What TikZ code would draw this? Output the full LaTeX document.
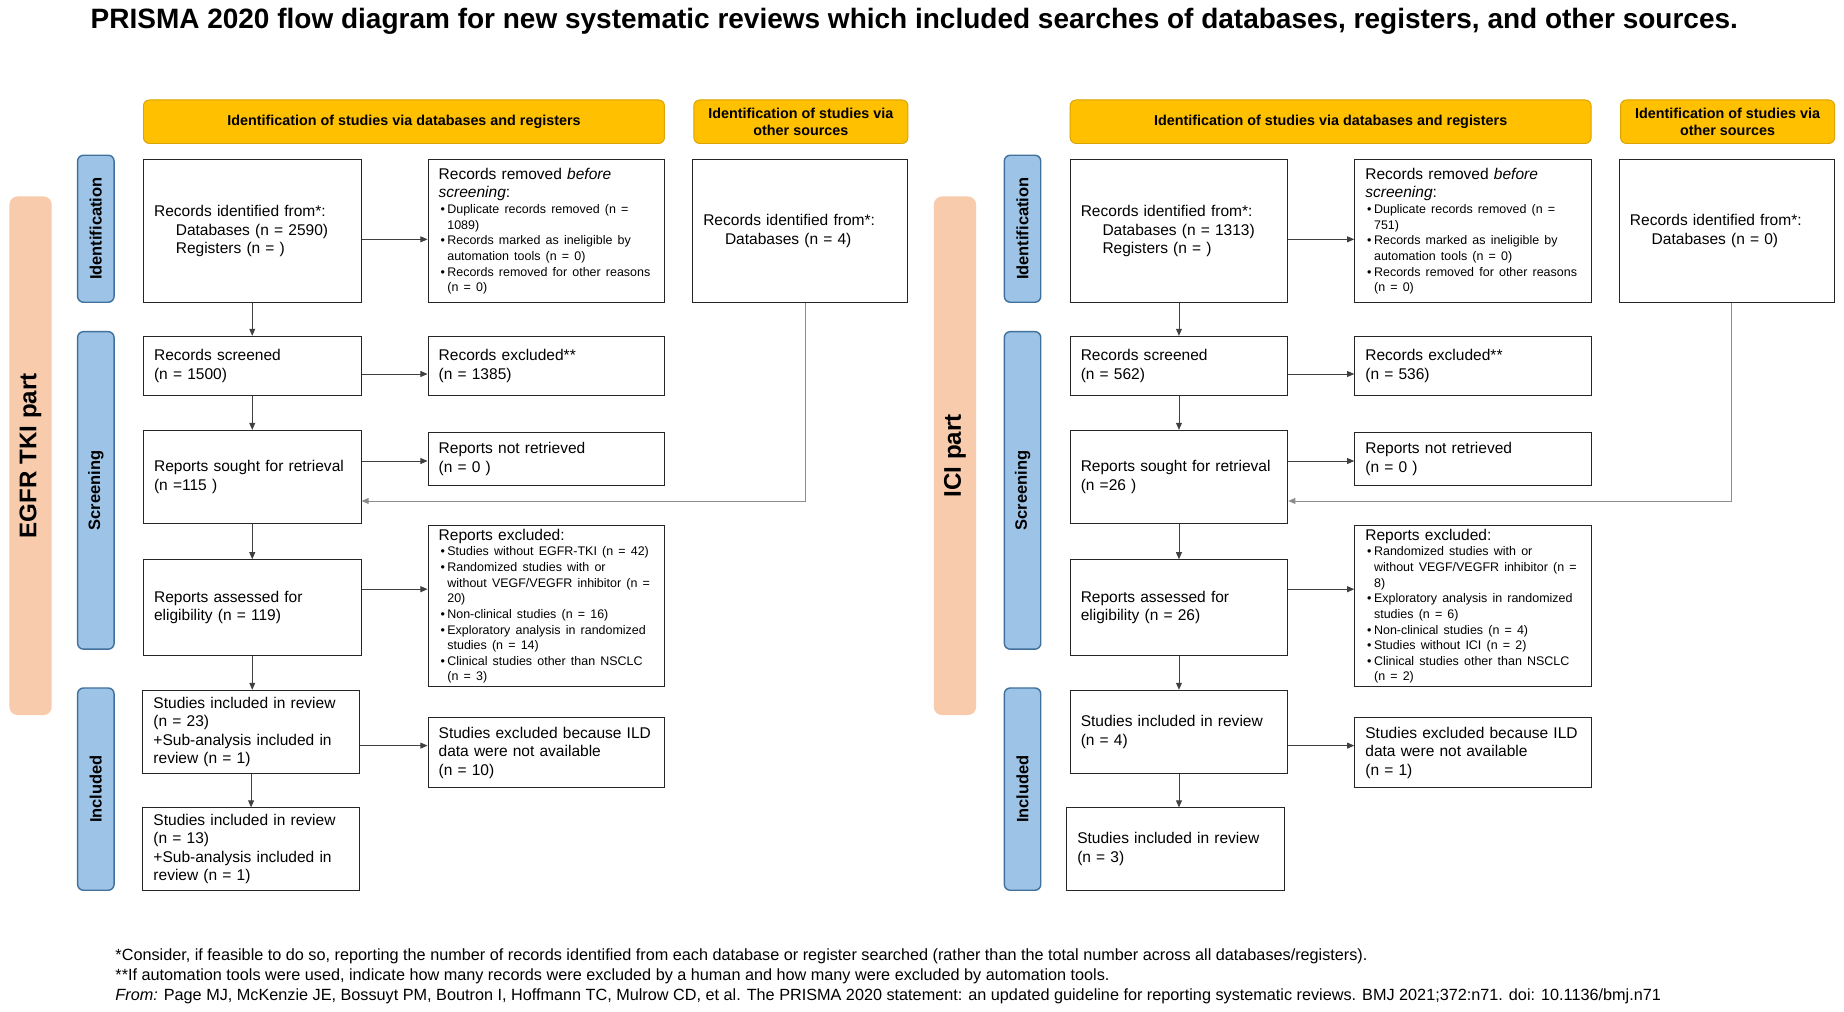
\documentclass[tikz,border=0pt]{standalone}
\usepackage{fontspec}
\setmainfont{Liberation Sans}
\usetikzlibrary{arrows.meta, calc}
\definecolor{hdrfill}{HTML}{FFC000}
\definecolor{hdrline}{HTML}{D9A300}
\definecolor{phasefill}{HTML}{9DC3E6}
\definecolor{phaseline}{HTML}{41719C}
\definecolor{partfill}{HTML}{F8CBAD}
\newcommand{\bigtxt}{\fontsize{13.2}{15.8}\selectfont}
\newcommand{\smalltxt}{\fontsize{10.6}{13.3}\selectfont}
\newcommand{\bitem}[1]{\par\hangindent=0.7em\hangafter=1\noindent\hspace*{0.15em}\makebox[0.55em][l]{\textbullet}#1}
\tikzset{
  box/.style={draw=black!85, line width=0.9pt, fill=white, rectangle, align=left,
    inner xsep=9pt, inner ysep=1pt, font=\bigtxt,
    execute at begin node={\parindent=0pt\hyphenpenalty=10000\exhyphenpenalty=10000}},
  hdr/.style={draw=hdrline, line width=0.8pt, fill=hdrfill, rounded corners=5pt,
    minimum height=37pt, align=center, font=\fontsize{12.2}{14.5}\selectfont\bfseries},
  phase/.style={draw=phaseline, line width=1.2pt, fill=phasefill, rounded corners=5pt,
    rotate=90, minimum height=31pt, font=\fontsize{14}{16}\selectfont\bfseries},
  part/.style={fill=partfill, rounded corners=7pt, rotate=90, minimum height=36pt,
    font=\fontsize{20.5}{24}\selectfont\bfseries},
  arr/.style={draw=black!75, line width=0.8pt, -{Triangle[length=6pt,width=5pt]}},
  feed/.style={draw=black!45, line width=0.8pt, -{Triangle[length=6pt,width=5pt]}},
  foot/.style={anchor=west, inner sep=0pt, font=\fontsize{13.8}{16}\selectfont}
}
\begin{document}
\begin{tikzpicture}[x=1pt, y=-1pt]
\fill[white] (0,0) rectangle (1568,860.5);
\useasboundingbox (0,0) rectangle (1568,860.5);

\node[font=\fontsize{23.8}{26}\selectfont\bfseries] (title) at (777.5,18) {PRISMA 2020 flow diagram for new systematic reviews which included searches of databases, registers, and other sources.};

\node[part, minimum width=441pt] (partl) at (26,387.5) {EGFR TKI part};
\node[phase, minimum width=125pt] (idphl) at (81.5,194.5) {Identification};
\node[phase, minimum width=270pt] (scphl) at (81.5,417) {Screening};
\node[phase, minimum width=172pt] (inphl) at (81.5,671) {Included};
\node[hdr, minimum width=443pt] (hdbl) at (343.5,103.5) {Identification of studies via databases and registers};
\node[hdr, minimum width=182pt] (hdol) at (681,103.5) {Identification of studies via\\other sources};

\node[box, text width=167pt, minimum height=121pt] (idl) at (214.5,196.5) {Records identified from*:\\\hspace*{1.4em}Databases (n = 2590)\\\hspace*{1.4em}Registers (n = )};
\node[box, text width=183pt, minimum height=121pt] (reml) at (464.5,196.5) {{\bigtxt Records removed \textit{before}\\\textit{screening}:\par}\smalltxt
  \bitem{Duplicate records removed (n =\newline 1089)}\bitem{Records marked as ineligible by\newline automation tools (n = 0)}\bitem{Records removed for other reasons\newline (n = 0)}\par};
\node[box, text width=165pt, minimum height=121pt] (othl) at (680.5,196.5) {Records identified from*:\\\hspace*{1.4em}Databases (n = 4)};
\node[box, text width=167pt, minimum height=50pt] (scrl) at (214.5,311) {Records screened\\(n = 1500)};
\node[box, text width=183pt, minimum height=50pt] (excl) at (464.5,311) {Records excluded**\\(n = 1385)};
\node[box, text width=167pt, minimum height=79pt] (soul) at (214.5,405.5) {Reports sought for retrieval\\(n =115 )};
\node[box, text width=183pt, minimum height=45pt] (retl) at (464.5,390.5) {Reports not retrieved\\(n = 0 )};
\node[box, text width=167pt, minimum height=81pt] (assl) at (214.5,516.5) {Reports assessed for\\eligibility (n = 119)};
\node[box, text width=183pt, minimum height=137pt] (rexl) at (464.5,515.5) {{\bigtxt Reports excluded:\par}\smalltxt
  \bitem{Studies without EGFR-TKI (n = 42)}\bitem{Randomized studies with or\newline without VEGF/VEGFR inhibitor (n =\newline 20)}\bitem{Non-clinical studies (n = 16)}\bitem{Exploratory analysis in randomized\newline studies (n = 14)}\bitem{Clinical studies other than NSCLC\newline (n = 3)}\par};
\node[box, text width=166pt, minimum height=71pt] (incl) at (213.5,622.5) {Studies included in review\\(n = 23)\\+Sub-analysis included in\\review (n = 1)};
\node[box, text width=183pt, minimum height=60pt] (ildl) at (464.5,640) {Studies excluded because ILD\\data were not available\\(n = 10)};
\node[box, text width=166pt, minimum height=70pt] (finl) at (213.5,722) {Studies included in review\\(n = 13)\\+Sub-analysis included in\\review (n = 1)};

\draw[arr] (idl) -- (scrl);
\draw[arr] (scrl) -- (soul);
\draw[arr] (soul) -- (assl);
\draw[arr] (assl.south) -- (assl.south |- incl.north);
\draw[arr] (incl) -- (finl);
\coordinate (al1) at ($(idl.east)+(0,7)$);
\draw[arr] (al1) -- (al1 -| reml.west);
\coordinate (al2) at ($(scrl.east)+(0,7)$);
\draw[arr] (al2) -- (al2 -| excl.west);
\coordinate (al3) at ($(soul.east)+(0,-13.5)$);
\draw[arr] (al3) -- (al3 -| retl.west);
\coordinate (al4) at ($(assl.east)+(0,-15.5)$);
\draw[arr] (al4) -- (al4 -| rexl.west);
\coordinate (al5) at ($(incl.east)+(0,11.5)$);
\draw[arr] (al5) -- (al5 -| ildl.west);
\coordinate (fl) at ($(soul.east)+(0,20.5)$);
\draw[feed] ([xshift=4pt]othl.south) |- (fl);

\begin{scope}[xshift=788pt]
\node[part, minimum width=441pt] (partr) at (24,387.5) {ICI part};
\node[phase, minimum width=125pt] (idphr) at (81.5,194.5) {Identification};
\node[phase, minimum width=270pt] (scphr) at (81.5,417) {Screening};
\node[phase, minimum width=172pt] (inphr) at (81.5,671) {Included};
\node[hdr, minimum width=443pt] (hdbr) at (343.5,103.5) {Identification of studies via databases and registers};
\node[hdr, minimum width=182pt] (hdor) at (681,103.5) {Identification of studies via\\other sources};

\node[box, text width=167pt, minimum height=121pt] (idr) at (214.5,196.5) {Records identified from*:\\\hspace*{1.4em}Databases (n = 1313)\\\hspace*{1.4em}Registers (n = )};
\node[box, text width=183pt, minimum height=121pt] (remr) at (464.5,196.5) {{\bigtxt Records removed \textit{before}\\\textit{screening}:\par}\smalltxt
  \bitem{Duplicate records removed (n =\newline 751)}\bitem{Records marked as ineligible by\newline automation tools (n = 0)}\bitem{Records removed for other reasons\newline (n = 0)}\par};
\node[box, text width=165pt, minimum height=121pt] (othr) at (680.5,196.5) {Records identified from*:\\\hspace*{1.4em}Databases (n = 0)};
\node[box, text width=167pt, minimum height=50pt] (scrr) at (214.5,311) {Records screened\\(n = 562)};
\node[box, text width=183pt, minimum height=50pt] (excr) at (464.5,311) {Records excluded**\\(n = 536)};
\node[box, text width=167pt, minimum height=79pt] (sour) at (214.5,405.5) {Reports sought for retrieval\\(n =26 )};
\node[box, text width=183pt, minimum height=45pt] (retr) at (464.5,390.5) {Reports not retrieved\\(n = 0 )};
\node[box, text width=167pt, minimum height=81pt] (assr) at (214.5,516.5) {Reports assessed for\\eligibility (n = 26)};
\node[box, text width=183pt, minimum height=137pt] (rexr) at (464.5,515.5) {{\bigtxt Reports excluded:\par}\smalltxt
  \bitem{Randomized studies with or\newline without VEGF/VEGFR inhibitor (n =\newline 8)}\bitem{Exploratory analysis in randomized\newline studies (n = 6)}\bitem{Non-clinical studies (n = 4)}\bitem{Studies without ICI (n = 2)}\bitem{Clinical studies other than NSCLC\newline (n = 2)}\par};
\node[box, text width=167pt, minimum height=71pt] (incr) at (214.5,622.5) {Studies included in review\\(n = 4)};
\node[box, text width=183pt, minimum height=60pt] (ildr) at (464.5,640) {Studies excluded because ILD\\data were not available\\(n = 1)};
\node[box, text width=167pt, minimum height=70pt] (finr) at (211.5,722) {Studies included in review\\(n = 3)};

\draw[arr] (idr) -- (scrr);
\draw[arr] (scrr) -- (sour);
\draw[arr] (sour) -- (assr);
\draw[arr] (assr) -- (incr);
\draw[arr] (incr.south) -- (incr.south |- finr.north);
\coordinate (ar1) at ($(idr.east)+(0,7)$);
\draw[arr] (ar1) -- (ar1 -| remr.west);
\coordinate (ar2) at ($(scrr.east)+(0,7)$);
\draw[arr] (ar2) -- (ar2 -| excr.west);
\coordinate (ar3) at ($(sour.east)+(0,-13.5)$);
\draw[arr] (ar3) -- (ar3 -| retr.west);
\coordinate (ar4) at ($(assr.east)+(0,-15.5)$);
\draw[arr] (ar4) -- (ar4 -| rexr.west);
\coordinate (ar5) at ($(incr.east)+(0,11.5)$);
\draw[arr] (ar5) -- (ar5 -| ildr.west);
\coordinate (fr) at ($(sour.east)+(0,20.5)$);
\draw[feed] ([xshift=4pt]othr.south) |- (fr);
\end{scope}

\node[foot] (foot1) at (98,813) {*Consider, if feasible to do so, reporting the number of records identified from each database or register searched (rather than the total number across all databases/registers).};
\node[foot] (foot2) at (98,830) {**If automation tools were used, indicate how many records were excluded by a human and how many were excluded by automation tools.};
\node[foot] (foot3) at (98,847) {\textit{From:} Page MJ, McKenzie JE, Bossuyt PM, Boutron I, Hoffmann TC, Mulrow CD, et al. The PRISMA 2020 statement: an updated guideline for reporting systematic reviews. BMJ 2021;372:n71. doi: 10.1136/bmj.n71};
\end{tikzpicture}
\end{document}
